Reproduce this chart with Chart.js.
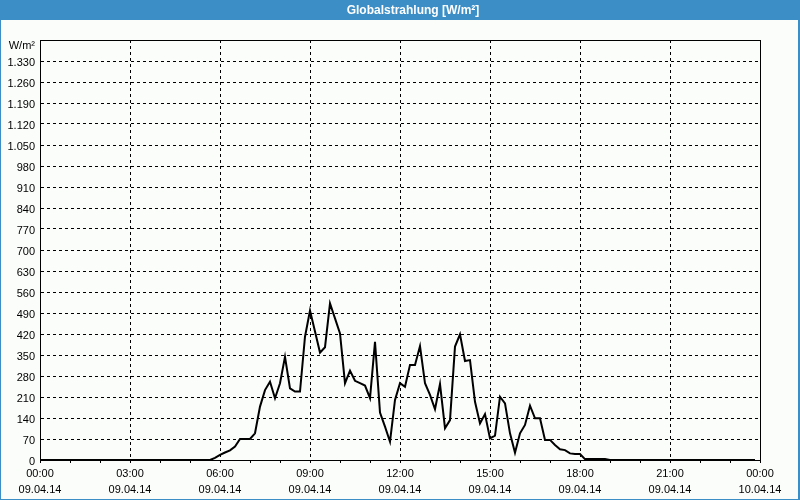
<!DOCTYPE html>
<html>
<head>
<meta charset="utf-8">
<script src="https://cdn.jsdelivr.net/npm/chart.js@4"></script>
<style>
    html, body { margin: 0; padding: 0; background: #fafdfa; }
    #wrap { width: 800px; height: 500px; }
</style>
</head>
<body>
<div id="wrap"><canvas id="radChart" width="800" height="500"></canvas></div>
<script>
// Globalstrahlung 09.04.14, 10-Minuten-Werte ab 00:00 (W/m²)
const globalRadiation = [
    0, 0, 0, 0, 0, 0,            // 00:00
    0, 0, 0, 0, 0, 0,            // 01:00
    0, 0, 0, 0, 0, 0,            // 02:00
    0, 0, 0, 0, 0, 0,            // 03:00
    0, 0, 0, 0, 0, 0,            // 04:00
    0, 0, 0, 0, 0, 7,            // 05:00
    17, 25, 32, 45, 70, 70,      // 06:00
    70, 89, 178, 233, 261, 206,  // 07:00
    256, 344, 239, 228, 228, 411, // 08:00
    498, 428, 358, 376, 522, 472, // 09:00
    422, 256, 298, 264, 256, 248, // 10:00
    206, 394, 158, 111, 61, 200, // 11:00
    256, 244, 317, 317, 380, 256, // 12:00
    217, 169, 253, 106, 133, 378, // 13:00
    419, 330, 333, 194, 122, 153, // 14:00
    72, 81, 211, 189, 89, 24,    // 15:00
    89, 117, 181, 139, 139, 67,  // 16:00
    67, 50, 36, 33, 22, 20,      // 17:00
    20, 3, 3, 3, 3, 3,           // 18:00
    0, 0, 0, 0, 0, 0,            // 19:00
    0, 0, 0, 0, 0, 0,            // 20:00
    0, 0, 0, 0, 0, 0,            // 21:00
    0, 0, 0, 0, 0, 0,            // 22:00
    0, 0, 0, 0, 0, 0             // 23:00
];

// Zeitpunkte in Stunden (Messintervall 10 min)
const sampleHours = globalRadiation.map((_, i) => i / 6);

// Achsenbeschriftung
const tickTimes = ['00:00', '03:00', '06:00', '09:00', '12:00', '15:00', '18:00', '21:00', '00:00'];
const tickDates = ['09.04.14', '09.04.14', '09.04.14', '09.04.14', '09.04.14', '09.04.14', '09.04.14', '09.04.14', '10.04.14'];
const yUnit = 'W/m²';
const chartTitle = 'Globalstrahlung [W/m²]';

const FRAME_BLUE = '#3c8fc6';
const BG = '#fafdfa';

/**
 * Zahl mit deutschem Tausenderpunkt
 */
function fmtNumber(v) {
    if (v >= 1000) {
        return Math.floor(v / 1000) + '.' + String(v % 1000).padStart(3, '0');
    }
    return String(v);
}

// Hintergrund, Titelleiste, Fensterrahmen
const framePlugin = {
    id: 'frame',
    beforeDraw(chart) {
        const ctx = chart.ctx;
        ctx.save();
        ctx.fillStyle = BG;
        ctx.fillRect(0, 0, chart.width, chart.height);
        ctx.fillStyle = FRAME_BLUE;
        ctx.fillRect(0, 0, chart.width, 20);
        ctx.fillRect(0, 0, 1, chart.height);
        ctx.fillRect(chart.width - 2, 0, 2, chart.height);
        ctx.fillRect(0, chart.height - 1, chart.width, 1);

        // Titel
        ctx.fillStyle = '#fff';
        ctx.font = 'bold 12px "Liberation Sans"';
        ctx.textAlign = 'center';
        ctx.textBaseline = 'middle';
        ctx.fillText(chartTitle, 413, 10.5);
        ctx.restore();
    },
    afterDraw(chart) {
        const a = chart.chartArea;
        const ctx = chart.ctx;
        ctx.save();
        ctx.strokeStyle = '#000';
        ctx.lineWidth = 1;
        ctx.strokeRect(Math.round(a.left) + 0.5, Math.round(a.top) + 0.5,
            Math.round(a.right - a.left), Math.round(a.bottom - a.top));
        ctx.restore();
    }
};

const ctx = document.getElementById('radChart');

new Chart(ctx, {
    type: 'line',
    data: {
        datasets: [{
            data: globalRadiation.map((v, i) => ({ x: sampleHours[i], y: v })),
            borderColor: '#000',
            borderWidth: 2,
            pointRadius: 0,
            tension: 0,
            fill: false
        }]
    },
    options: {
        responsive: false,
        animation: false,
        layout: {
            padding: { top: 40, right: 40, bottom: 0, left: 0 }
        },
        plugins: {
            legend: { display: false },
            tooltip: { enabled: false },
            title: { display: false }
        },
        scales: {
            x: {
                type: 'linear',
                min: 0,
                max: 24,
                afterFit(scale) { scale.height = 40; },
                ticks: {
                    stepSize: 1,
                    autoSkip: false,
                    maxRotation: 0,
                    padding: 3,
                    color: '#000',
                    font: { family: 'Liberation Sans', size: 11, lineHeight: '16px' },
                    callback: function(v) {
                        if (v % 3 !== 0) return '';
                        return [tickTimes[v / 3], tickDates[v / 3]];
                    }
                },
                grid: {
                    color: c => (c.tick && c.tick.value % 3 === 0) ? '#000' : 'rgba(0,0,0,0)',
                    tickColor: '#000',
                    tickLength: 3,
                    lineWidth: 1
                },
                border: { color: '#000', width: 1, dash: [3, 3] }
            },
            y: {
                min: 0,
                max: 1400,
                afterFit(scale) { scale.width = 40; },
                ticks: {
                    stepSize: 70,
                    padding: 5,
                    labelOffset: 1.5,
                    color: '#000',
                    font: { family: 'Liberation Sans', size: 11, lineHeight: '8px' },
                    callback: function(v) {
                        // Einheit statt 1.400, etwas tiefer gesetzt
                        return v === 1400 ? ['', yUnit] : fmtNumber(v);
                    }
                },
                grid: {
                    color: '#000',
                    drawTicks: false,
                    lineWidth: 1
                },
                border: { color: '#000', width: 1, dash: [3, 3] }
            }
        }
    },
    plugins: [framePlugin]
});
</script>
</body>
</html>
